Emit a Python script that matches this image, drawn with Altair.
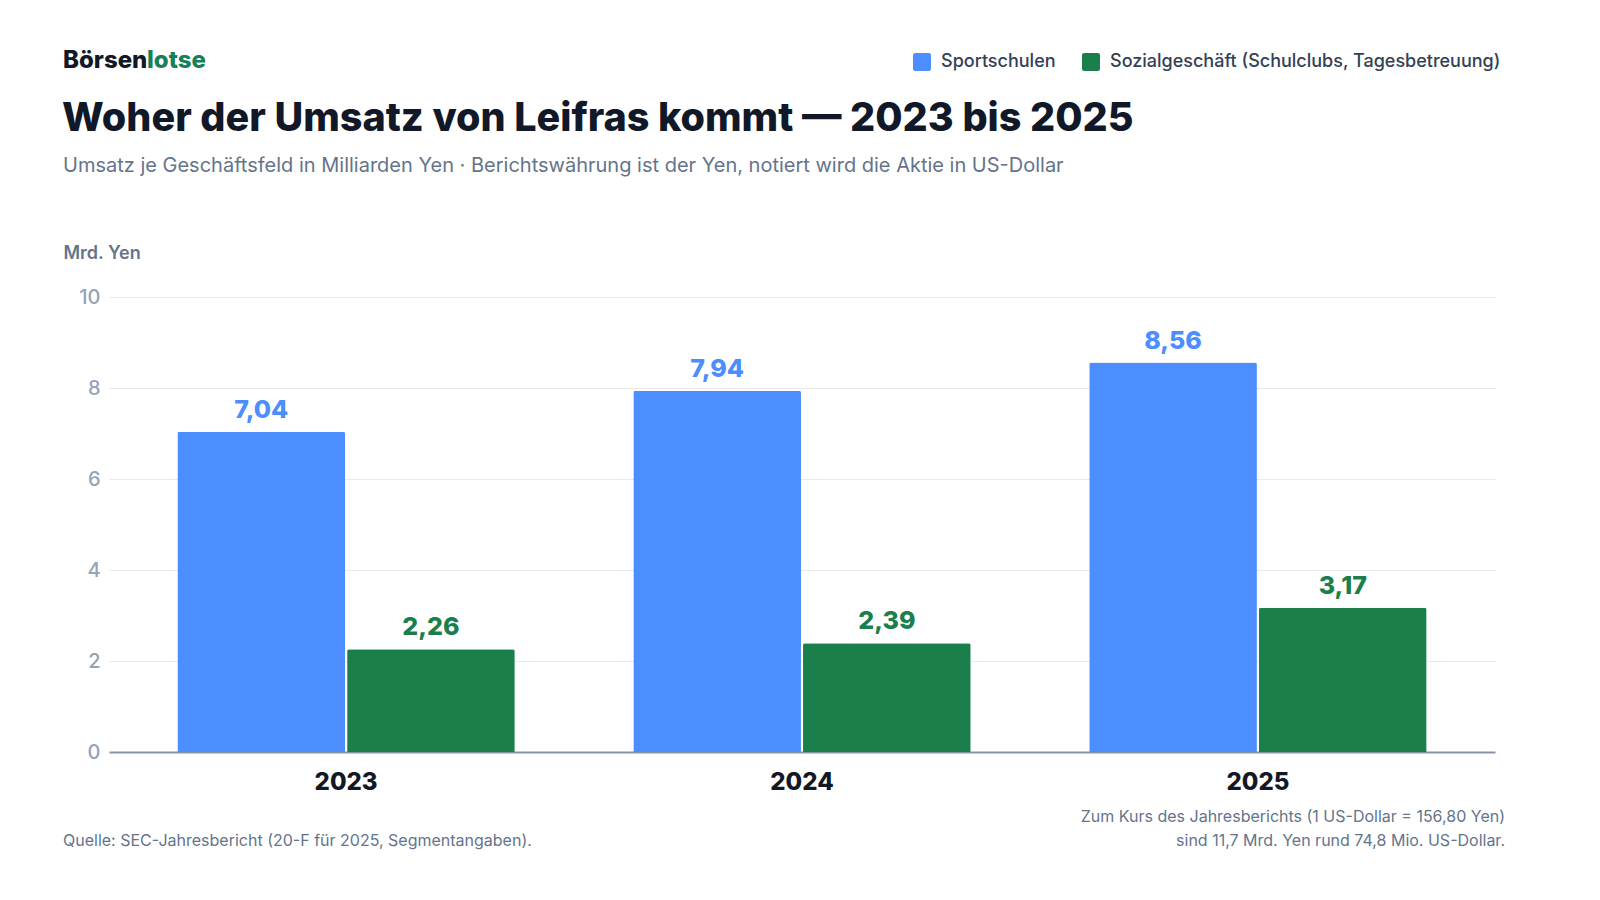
import altair as alt
import pandas as pd

years = ["2023", "2024", "2025"]
segments = ["Sportschulen", "Sozialgeschäft (Schulclubs, Tagesbetreuung)"]
sport = [7.04, 7.94, 8.56]
sozial = [2.26, 2.39, 3.17]
colors = ["#4C8DFF", "#1B7F4C"]
y_ticks = [0, 2, 4, 6, 8, 10]

rows = []
for i, y in enumerate(years):
    rows.append({"year": y, "segment": segments[0], "value": sport[i]})
    rows.append({"year": y, "segment": segments[1], "value": sozial[i]})
df = pd.DataFrame(rows)

FONT = "Inter"
W, H = 1386, 455

x_axis = alt.Axis(title=None, labelFontSize=24, labelFontWeight=800,
                  labelColor="#111827", labelPadding=18, ticks=False,
                  domain=True, domainColor="#8A94A6", domainWidth=2,
                  labelAngle=0, grid=False, labelFont=FONT)
y_axis = alt.Axis(values=y_ticks, title="Mrd. Yen", titleAngle=0,
                  titleX=-46, titleY=-39, titleAlign="left",
                  titleBaseline="alphabetic",
                  titleFontSize=18, titleFontWeight=600, titleColor="#64748B",
                  titleFont=FONT,
                  labelFontSize=20, labelFontWeight=500, labelColor="#94A3B8", labelFont=FONT,
                  labelPadding=9, ticks=False, domain=False,
                  gridColor="#E8EAEE", gridWidth=1.2)

xscale = alt.Scale(paddingInner=0.26, paddingOuter=0.15)
yscale = alt.Scale(domain=[0, 10], nice=False)
xoff = alt.XOffset("segment:N", sort=segments, scale=alt.Scale(paddingInner=0.012))
color = alt.Color("segment:N", sort=segments,
                  scale=alt.Scale(domain=segments, range=colors),
                  legend=alt.Legend(
                      orient="none", direction="horizontal", legendX=804, legendY=-244,
                      title=None, labelFontSize=18, labelFont=FONT, labelColor="#334155",
                      labelFontWeight=500, symbolSize=324, symbolStrokeWidth=0,
                      symbolType="M -0.75 -1 H 0.75 Q 1 -1 1 -0.75 V 0.75 Q 1 1 0.75 1 H -0.75 Q -1 1 -1 0.75 V -0.75 Q -1 -1 -0.75 -1 Z",
                      symbolOpacity=1, columnPadding=26, labelOffset=10,
                      labelLimit=600))

bars = alt.Chart(df).mark_bar(cornerRadiusTopLeft=2, cornerRadiusTopRight=2).encode(
    x=alt.X("year:N", sort=years, scale=xscale, axis=x_axis),
    xOffset=xoff, color=color,
    y=alt.Y("value:Q", scale=yscale, axis=y_axis),
)

labels = alt.Chart(df).transform_calculate(
    label="replace(format(datum.value, '.2f'), '.', ',')"
).mark_text(baseline="alphabetic", dy=-14, fontSize=25, fontWeight=800, font=FONT).encode(
    x=alt.X("year:N", sort=years, scale=xscale, axis=x_axis), xOffset=xoff,
    y=alt.Y("value:Q", scale=yscale, axis=y_axis), text="label:N",
    color=alt.Color("segment:N", sort=segments, scale=alt.Scale(domain=segments, range=colors), legend=None),
)

def txt(text, x, y, size, color, weight="normal", align="left"):
    return alt.Chart(pd.DataFrame({"t": [text]})).mark_text(
        align=align, baseline="alphabetic", fontSize=size, fontWeight=weight,
        color=color, font=FONT
    ).encode(x=alt.value(x), y=alt.value(y), text="t:N")

logo1 = txt("Börsen", -46, -229, 24, "#111827", 800)
logo2 = txt("lotse", 38, -229, 24, "#15805A", 800)
title = txt("Woher der Umsatz von Leifras kommt — 2023 bis 2025", -47, -166, 39.5, "#111827", 800)
subtitle = txt("Umsatz je Geschäftsfeld in Milliarden Yen · Berichtswährung ist der Yen, notiert wird die Aktie in US-Dollar",
               -46, -125, 20, "#64748B")
source = txt("Quelle: SEC-Jahresbericht (20-F für 2025, Segmentangaben).", -46, 549, 16, "#64748B")
note1 = txt("Zum Kurs des Jahresberichts (1 US-Dollar = 156,80 Yen)", 1396, 525, 16, "#64748B", align="right")
note2 = txt("sind 11,7 Mrd. Yen rund 74,8 Mio. US-Dollar.", 1396, 549, 16, "#64748B", align="right")

chart = alt.layer(bars, labels, logo1, logo2, title, subtitle, source, note1, note2).properties(
    width=W, height=H,
    autosize=alt.AutoSizeParams(type="none"),
    padding={"left": 101, "top": 289, "right": 60, "bottom": 110},
    view=alt.ViewBackground(stroke="transparent", strokeWidth=0),
).configure_view(strokeWidth=0, stroke="transparent").configure_axisX(grid=False).configure(background="white")

chart.save("out.html", embed_options={"renderer": "svg", "actions": False})
